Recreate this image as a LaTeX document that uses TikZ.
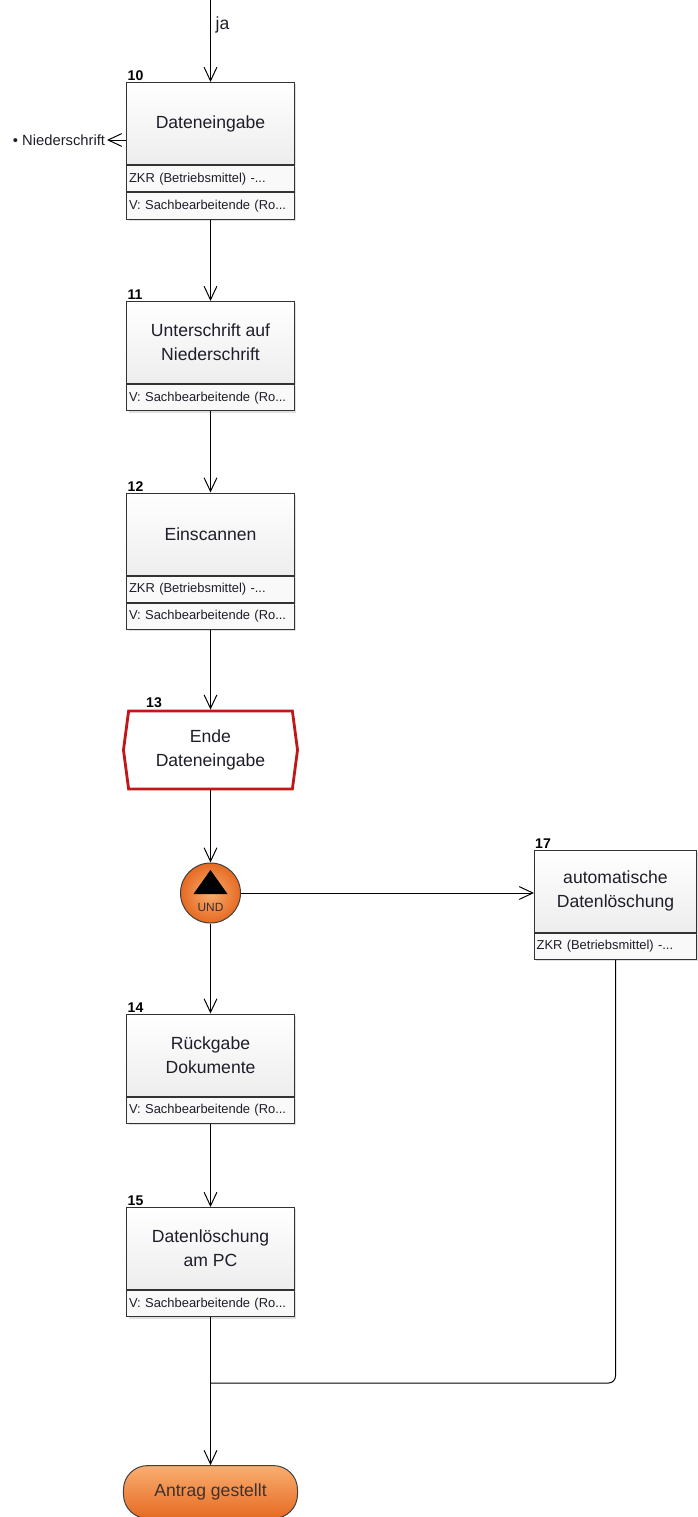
\documentclass[tikz,border=0pt]{standalone}
\usepackage{fontspec}
\setmainfont{Liberation Sans}
\usepackage{tikz}
\usepackage{xcolor}
\usetikzlibrary{arrows.meta, shapes.symbols, shadows}

\definecolor{undlight}{HTML}{F9AE70}
\definecolor{unddark}{HTML}{E66A22}
\definecolor{evred}{HTML}{C01818}
\definecolor{txtdark}{HTML}{1E1E2A}

\tikzset{
  func/.style={rectangle, draw=black!80, line width=0.7pt, top color=white, bottom color=gray!14,
    minimum width=4.175cm, minimum height=2.05cm, align=center, text=txtdark,
    font=\fontsize{12.5}{17}\selectfont,
    drop shadow={shadow xshift=1.2pt, shadow yshift=-1.2pt, opacity=0.25}},
  row/.style={rectangle, draw=black!80, line width=0.7pt, fill=gray!5, anchor=north,
    minimum width=4.175cm, minimum height=0.66cm, inner xsep=1.5pt, text width=4.175cm-3pt,
    align=left, text=txtdark, font=\fontsize{9.2}{11}\selectfont,
    drop shadow={shadow xshift=1.2pt, shadow yshift=-1.2pt, opacity=0.25}},
  num/.style={anchor=south west, inner sep=0.5pt, font=\fontsize{10}{11}\bfseries},
  event/.style={signal, signal to=west and east, signal pointer angle=165, draw=evred,
    line width=2pt, fill=white, minimum width=4.35cm, minimum height=1.95cm,
    align=center, text=txtdark, font=\fontsize{12.5}{17}\selectfont},
  andgate/.style={circle, draw=black!75, line width=0.7pt, inner color=undlight,
    outer color=unddark, minimum size=1.5cm},
  term/.style={rectangle, rounded corners=0.6cm, draw=black!75, line width=0.7pt,
    top color=undlight, bottom color=unddark, minimum width=4.35cm, minimum height=1.32cm,
    text=txtdark!80!brown, font=\fontsize{12.5}{15}\selectfont}
}

\begin{document}
\begin{tikzpicture}[x=0.025cm, y=-0.025cm, line width=0.7pt,
    >={Straight Barb[length=3.4mm, width=3.2mm]}]
  \useasboundingbox (0,0) rectangle (697,1517);

  \coordinate (top) at (210.5,0);
  \node[func] (f10) at (210.5,123.5) {Dateneingabe};
  \node[row] (r10a) at (f10.south) {ZKR (Betriebsmittel) -...};
  \node[row] (r10b) at (r10a.south) {V: Sachbearbeitende (Ro...};
  \node[num] (n10) at (f10.north west) {10};
  \node[anchor=east, inner sep=1pt, text=txtdark, font=\fontsize{10.5}{12}\selectfont] (nied) at (107,140) {• Niederschrift};

  \node[func] (f11) at (210.5,342.5) {Unterschrift auf\\Niederschrift};
  \node[row] (r11) at (f11.south) {V: Sachbearbeitende (Ro...};
  \node[num] (n11) at (f11.north west) {11};

  \node[func] (f12) at (210.5,534) {Einscannen};
  \node[row] (r12a) at (f12.south) {ZKR (Betriebsmittel) -...};
  \node[row] (r12b) at (r12a.south) {V: Sachbearbeitende (Ro...};
  \node[num] (n12) at (f12.north west) {12};

  \node[event] (e13) at (210.5,750) {Ende\\Dateneingabe};
  \node[num] (n13) at (145,709) {13};

  \node[andgate] (und) at (210.5,893) {};
  \fill[black] (und.center) ++(0,-23) -- ++(17,24) -- ++(-34,0) -- cycle;
  \node[inner sep=0pt, text=txtdark!85!brown, font=\fontsize{8.5}{9}\selectfont] (undtxt) at (210.5,907) {UND};

  \node[func, minimum width=4.05cm] (f17) at (615.5,891) {automatische\\Datenlöschung};
  \node[row, minimum width=4.05cm, text width=4.05cm-3pt] (r17) at (f17.south) {ZKR (Betriebsmittel) -...};
  \node[num] (n17) at (f17.north west) {17};

  \node[func] (f14) at (210.5,1055) {Rückgabe\\Dokumente};
  \node[row] (r14) at (f14.south) {V: Sachbearbeitende (Ro...};
  \node[num] (n14) at (f14.north west) {14};

  \node[func] (f15) at (210.5,1248.5) {Datenlöschung\\am PC};
  \node[row] (r15) at (f15.south) {V: Sachbearbeitende (Ro...};
  \node[num] (n15) at (f15.north west) {15};

  \node[term] (ende) at (210.5,1492) {Antrag gestellt};
  \coordinate (join) at (210.5,1383);

  \draw[->] (top) -- (f10.north) node[pos=0.3, right, text=txtdark, font=\fontsize{12.5}{15}\selectfont]{ja};
  \draw[->] (f10.west |- nied.east) -- (nied.east);
  \draw[->] (r10b.south) -- (f11.north);
  \draw[->] (r11.south) -- (f12.north);
  \draw[->] (r12b.south) -- (e13.north);
  \draw[->] (e13.south) -- (und.north);
  \draw[->] (und.east) -- (f17.west |- und.east);
  \draw[->] (und.south) -- (f14.north);
  \draw[->] (r14.south) -- (f15.north);
  \draw[->] (r15.south) -- (ende.north);
  \draw[rounded corners=5pt] (r17.south) |- (join);
\end{tikzpicture}
\end{document}
